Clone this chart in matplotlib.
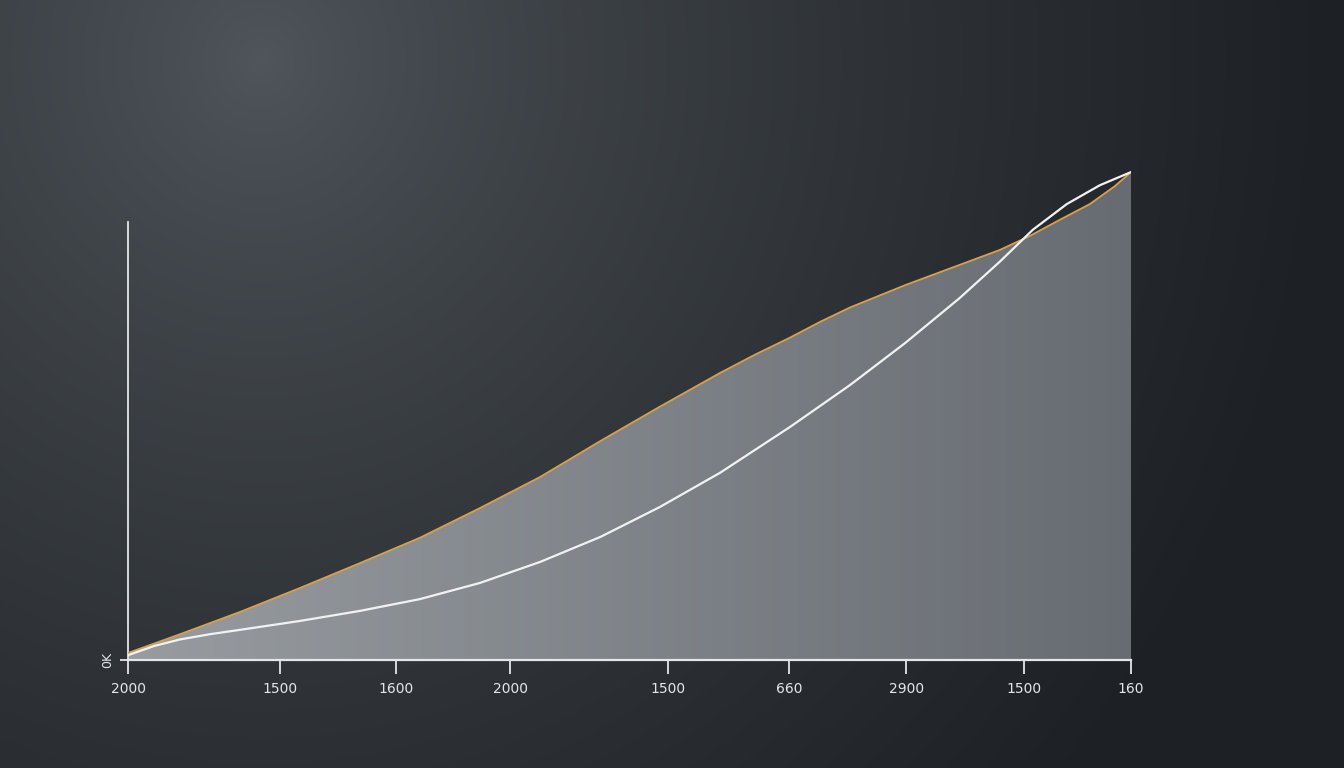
import matplotlib
matplotlib.use("Agg")
import matplotlib.pyplot as plt
import numpy as np
from matplotlib.patches import Polygon

# values (x: 0-100 along the axis, y: 0 at baseline)
upper_x = [0, 5.2, 11.2, 17.1, 23.1, 29.1, 35.1, 41.1, 47.1, 53.0, 59.0, 62.5, 66.0,
           69.0, 72.0, 77.5, 82.9, 86.9, 89.9, 92.9, 95.9, 98.4, 100]
upper_y = [1.6, 5.9, 11.0, 16.4, 22.1, 27.9, 34.7, 41.8, 50.0, 57.8, 65.5, 69.7, 73.6,
           77.2, 80.5, 85.6, 90.2, 93.6, 96.8, 100.5, 104.1, 108.2, 111.4]

lower_x = [0, 2.6, 5.2, 8.2, 11.2, 17.1, 23.1, 29.1, 35.1, 41.1, 47.1, 53.0, 59.0,
           66.0, 72.0, 77.5, 82.9, 86.9, 90.2, 93.6, 96.9, 100]
lower_y = [1.1, 3.2, 4.7, 5.9, 6.9, 8.9, 11.2, 13.9, 17.6, 22.4, 28.1, 34.9, 42.7,
           53.2, 62.8, 72.4, 82.6, 90.9, 98.2, 104.1, 108.4, 111.4]

tick_pos = [0, 15.2, 26.7, 38.1, 53.8, 65.9, 77.6, 89.3, 100]
tick_labels = ["2000", "1500", "1600", "2000", "1500", "660", "2900", "1500", "160"]
y_label = "0K"

fig = plt.figure(figsize=(13.44, 7.68), dpi=100)

# background: dark radial gradient, lighter towards the top left
bg = fig.add_axes([0, 0, 1, 1])
h, w = 384, 672
yy, xx = np.mgrid[0:h, 0:w]
d = np.hypot((xx - 130) / w, (yy - 30) / h * 0.55)
t = np.clip(d / 0.8, 0, 1) ** 0.75
light = np.array([80, 86, 92]) / 255
dark = np.array([29, 32, 36]) / 255
img = light[None, None, :] * (1 - t[..., None]) + dark[None, None, :] * t[..., None]
bg.imshow(img, aspect="auto", extent=[0, 1, 0, 1], origin="upper")
bg.set_axis_off()

ax = fig.add_axes([128 / 1344, 108 / 768, 1003 / 1344, 503.7 / 768])
ax.patch.set_alpha(0)
ax.set_xlim(0, 100)
ax.set_ylim(0, 115)

# gradient fill under the upper line
grad = np.linspace(0, 1, 256)[None, :]
c0 = np.array([152, 156, 161]) / 255
c1 = np.array([103, 108, 114]) / 255
fill_img = c0[None, None, :] * (1 - grad[..., None]) + c1[None, None, :] * grad[..., None]
im = ax.imshow(fill_img, aspect="auto", extent=[0, 100, 0, 115], origin="lower", zorder=1)
verts = list(zip(upper_x, upper_y)) + [(100, 0), (0, 0)]
clip = Polygon(verts, closed=True, transform=ax.transData, facecolor="none", edgecolor="none")
ax.add_patch(clip)
im.set_clip_path(clip)

ax.plot(upper_x, upper_y, color="#d9a04a", lw=1.3, zorder=3, solid_joinstyle="round")
ax.plot(lower_x, lower_y, color="#f2f2f2", lw=1.6, zorder=4, solid_joinstyle="round")

for s in ["top", "right"]:
    ax.spines[s].set_visible(False)
ax.spines["left"].set_bounds(0, 100)
ax.spines["left"].set_color("#e6e6e6")
ax.spines["bottom"].set_color("#e6e6e6")
ax.spines["left"].set_linewidth(1.3)
ax.spines["bottom"].set_linewidth(1.6)

ax.set_xticks(tick_pos)
ax.set_xticklabels(tick_labels)
ax.tick_params(axis="x", colors="#e6e6e6", length=10, width=1.3, pad=6, labelsize=10)
ax.set_yticks([0])
ax.set_yticklabels([y_label], rotation=90, va="center")
ax.tick_params(axis="y", colors="#e6e6e6", length=6, width=1.3, pad=4, labelsize=9)

fig.savefig("out.png", dpi=100)
